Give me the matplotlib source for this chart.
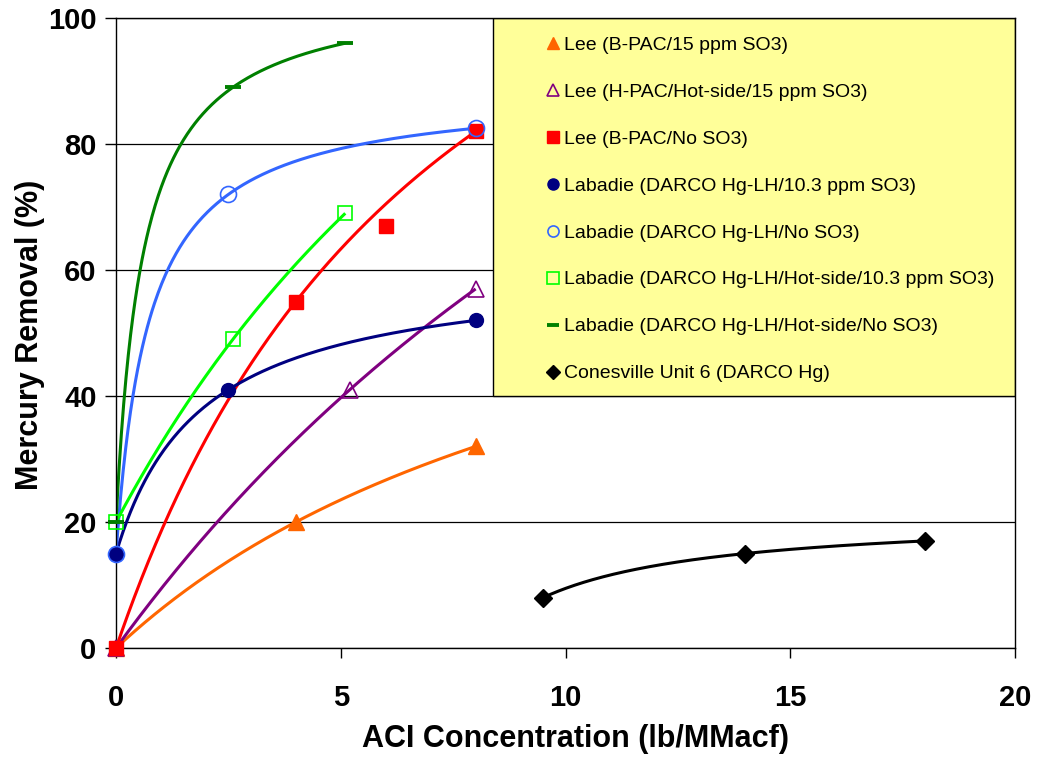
import numpy as np
import matplotlib.pyplot as plt
from matplotlib.lines import Line2D
from matplotlib.patches import Rectangle

plt.rcParams['font.family'] = ['Liberation Sans', 'DejaVu Sans']

# ACI concentration (lb/MMacf) and mercury removal (%) per test
lee_bpac_so3_x = [0, 4, 8]
lee_bpac_so3_y = [0, 20, 32]
lee_hpac_x = [0, 5.2, 8]
lee_hpac_y = [0, 41, 57]
lee_bpac_noso3_x = [0, 4, 6, 8]
lee_bpac_noso3_y = [0, 55, 67, 82]
lab_so3_x = [0, 2.5, 8]
lab_so3_y = [15, 41, 52]
lab_noso3_x = [0, 2.5, 8]
lab_noso3_y = [15, 72, 82.5]
lab_hot_so3_x = [0, 2.6, 5.1]
lab_hot_so3_y = [20, 49, 69]
lab_hot_noso3_x = [0, 2.6, 5.1]
lab_hot_noso3_y = [20, 89, 96]
cones_x = [9.5, 14, 18]
cones_y = [8, 15, 17]

series_labels = [
    "Lee (B-PAC/15 ppm SO3)",
    "Lee (H-PAC/Hot-side/15 ppm SO3)",
    "Lee (B-PAC/No SO3)",
    "Labadie (DARCO Hg-LH/10.3 ppm SO3)",
    "Labadie (DARCO Hg-LH/No SO3)",
    "Labadie (DARCO Hg-LH/Hot-side/10.3 ppm SO3)",
    "Labadie (DARCO Hg-LH/Hot-side/No SO3)",
    "Conesville Unit 6 (DARCO Hg)",
]
x_ticks = [0, 5, 10, 15, 20]
y_ticks = [0, 20, 40, 60, 80, 100]


def saturation_curve(xs, ys, n=300):
    "Smooth y = y0 + a*dx/(b+dx) passing through first, second and last point"
    x0, x1, x2 = xs[0], xs[1], xs[-1]
    y0, y1, y2 = ys[0], ys[1], ys[-1]
    d1, d2 = x1 - x0, x2 - x0
    r = (y1 - y0) / (y2 - y0)
    b = d1 * d2 * (r - 1) / (d1 - r * d2)
    a = (y1 - y0) * (b + d1) / d1
    xx = np.linspace(x0, x2, n)
    return xx, y0 + a * (xx - x0) / (b + xx - x0)


# (x, y, colour, marker, filled, plot size, legend size, edge width)
styles = [
    (lee_bpac_so3_x, lee_bpac_so3_y, '#FF6600', '^', True, 11, 9, 1),
    (lee_hpac_x, lee_hpac_y, '#800080', '^', False, 11, 9, 1.2),
    (lee_bpac_noso3_x, lee_bpac_noso3_y, '#FF0000', 's', True, 10, 8, 1),
    (lab_so3_x, lab_so3_y, '#000080', 'o', True, 10, 8, 1),
    (lab_noso3_x, lab_noso3_y, '#3366FF', 'o', False, 11.5, 8, 1.2),
    (lab_hot_so3_x, lab_hot_so3_y, '#00FF00', 's', False, 10, 8, 1.2),
    (lab_hot_noso3_x, lab_hot_noso3_y, '#008000', '_', True, 12, 9, 2.8),
    (cones_x, cones_y, '#000000', 'D', True, 9, 7, 1),
]

fig = plt.figure(figsize=(10.37, 7.59), dpi=100)
ax = fig.add_axes([0.1119, 0.1462, 0.8669, 0.8301])

handles = []
for xs, ys, col, mk, filled, ms, lms, mew in styles:
    cx, cy = saturation_curve(xs, ys)
    ax.plot(cx, cy, color=col, lw=2.2, solid_capstyle='butt', zorder=2)
    face = col if filled else 'none'
    ax.plot(xs, ys, ls='none', marker=mk, ms=ms, mfc=face, mec=col, mew=mew,
            clip_on=False, zorder=3)
    handles.append(Line2D([], [], ls='none', marker=mk, ms=lms, mfc=face,
                          mec=col, mew=mew))

ax.set_xlim(0, 20)
ax.set_ylim(0, 100)
ax.set_xticks(x_ticks, [str(t) for t in x_ticks], fontweight='bold', fontsize=21)
ax.set_yticks(y_ticks, [str(t) for t in y_ticks], fontweight='bold', fontsize=21)
ax.tick_params(axis='x', direction='out', length=7, width=1, pad=19)
ax.tick_params(axis='y', direction='out', length=8, width=1, pad=6)
ax.yaxis.grid(True, color='black', lw=0.9)
ax.set_axisbelow(True)
for sp in ax.spines.values():
    sp.set_linewidth(1.0)
    sp.set_color('black')

ax.set_xlabel("ACI Concentration (lb/MMacf)", fontsize=22, fontweight='bold')
ax.set_ylabel("Mercury Removal (%)", fontsize=22, fontweight='bold')
ax.xaxis.label.set_va('center')
ax.yaxis.label.set_va('center')
ax.xaxis.set_label_coords(0.5106, -0.145)
ax.yaxis.set_label_coords(-0.096, 0.497)

# yellow legend panel in the upper right of the plot
ax.add_patch(Rectangle((0.4194, 0.4), 0.5806, 0.6, transform=ax.transAxes,
                       facecolor='#FFFF99', edgecolor='black', lw=1.0, zorder=1.5))
fig.legend(handles, series_labels, loc='upper left',
           bbox_to_anchor=(543 / 1037, (759 - 36) / 759), bbox_transform=fig.transFigure,
           frameon=False, fontsize=14, handlelength=1.0, handletextpad=0.1,
           borderpad=0, borderaxespad=0, labelspacing=1.51, numpoints=1)

fig.savefig('out.png', dpi=100)
